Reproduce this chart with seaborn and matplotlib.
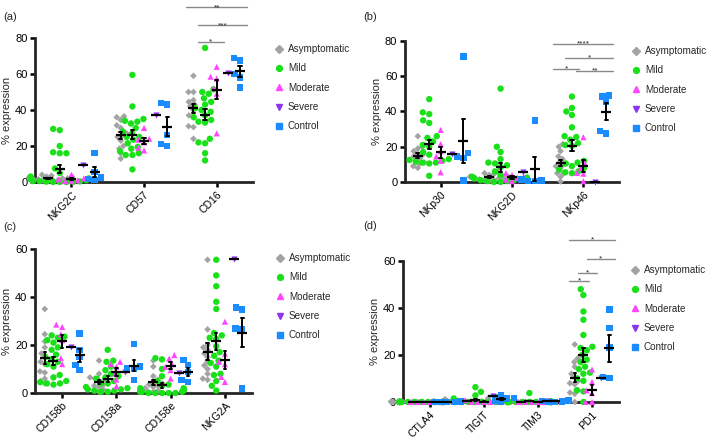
import pandas as pd
import seaborn as sns
import matplotlib.pyplot as plt
from matplotlib.lines import Line2D

# groups and their look
groups = ["Asymptomatic", "Mild", "Moderate", "Severe", "Control"]
colors = ["#a3a3a3", "#19e019", "#ff45ff", "#8c33f0", "#1a8cff"]
markers = ["D", "o", "^", "v", "s"]
sizes = [3.4, 4.6, 4.4, 4.4, 4.6]

# (a)
cats_a = ["NKG2C", "CD57", "CD16"]
a_asym = [[0.5, 1, 1.5, 2, 2.5, 3, 3.5, 4, 1, 2, 0.8, 3, 1.5],
          [36.5, 36, 34.5, 31.5, 30, 27, 26, 25, 23, 20, 18.5, 16, 13],
          [59, 50, 50, 45.5, 44.5, 43, 42, 40, 37, 36, 31, 30.5, 24]]
a_mild = [[29.5, 28.8, 20, 16.5, 16, 16, 7.5, 5, 3, 2, 1.5, 1, 0.5, 0.5, 0.3, 0.2, 0.1, 0, 0, 0],
          [59.5, 42, 35, 34, 33.5, 32.5, 30, 28, 27, 25, 25, 23.5, 21.5, 19.5, 18.5, 17, 16, 15, 15, 7],
          [74.5, 51.5, 50, 49, 46.5, 44.5, 43, 41, 40, 39, 37, 36, 34.5, 33.5, 33, 24, 22, 21.5, 16, 12]]
a_mod = [[4, 2, 1, 0.5, 0.5, 1.5],
         [30, 24, 23.5, 22, 19, 17.5],
         [64, 58.5, 57.5, 52, 49, 27]]
a_sev = [[9.5], [37], [60.5]]
a_ctrl = [[16, 5.5, 2.5, 1.5, 1],
          [44, 43, 26, 21, 20],
          [69, 67.5, 60, 58, 52.5]]

# (b)
cats_b = ["NKp30", "NKG2D", "NKp46"]
b_asym = [[26, 20, 19, 17.5, 16, 15.5, 14.5, 13.5, 12, 11, 10.5, 9, 8],
          [6, 5, 4.5, 4, 3, 3, 2.5, 2, 2, 1.5, 1, 1, 0.5],
          [21.5, 20, 17.5, 14.5, 13, 11, 10, 9, 8, 5, 5, 3, 0.3]]
b_mild = [[47, 39.5, 38.5, 35, 33.5, 26, 25, 23, 21, 20, 17, 15.5, 13, 12.5, 12, 11.5, 11, 11, 10.5, 3.5],
          [53, 20, 17, 13, 11, 10.5, 9.5, 8.5, 6, 4, 3, 2.5, 2, 1.5, 1, 1, 0.5, 0.5, 0, 0],
          [48.5, 42, 40, 38, 31, 26, 25.5, 24, 22, 21, 20.5, 12, 11, 10.5, 9, 8, 7, 6, 5.5, 5]]
b_mod = [[29.5, 21.5, 17.5, 14.5, 12, 5.5],
         [5, 4, 3, 2.3, 1.3, 0.4],
         [25.4, 10.7, 7.9, 5.1, 4.7, 0.4]]
b_sev = [[15.8], [5.6], [0]]
b_ctrl = [[71.3, 16.4, 14.5, 13.6, 0.8],
          [34.8, 1.3, 0.9, 0.4, 0.4],
          [49, 48.5, 45.5, 29, 27.5]]

# (c)
cats_c = ["CD158b", "CD158a", "CD158e", "NKG2A"]
c_asym = [[35, 24.5, 21.5, 19, 16.5, 15, 13, 12, 9, 8.5, 6, 5, 4],
          [13.5, 8, 6.5, 6, 5.5, 5, 4, 3.5, 3, 2.5, 1.5, 1, 0.5],
          [13.5, 11, 7, 5.5, 4.5, 4, 3.5, 3, 2.5, 2, 1, 0.5, 0.5],
          [55.5, 26.5, 20, 19, 18, 16.5, 15, 13, 11.5, 10, 8, 6, 5.5]]
c_mild = [[24, 23.5, 23, 22, 21, 19, 18, 16, 15, 14, 13, 12, 11, 7.5, 6.5, 5, 4.5, 4, 4, 3.5],
          [18, 13.5, 13, 11, 9.5, 8, 7, 6.5, 6, 5, 4, 4, 2.5, 2, 1.5, 1.5, 1, 1, 0.5, 0.5],
          [14.5, 14, 10, 7, 5, 3.5, 3, 2, 2, 1.5, 1, 1, 0.5, 0.5, 0.5, 0, 0, 0, 0, 0],
          [55.5, 49, 44.5, 38, 35, 25, 24, 23, 22.5, 19.5, 17, 15.5, 13.5, 12.5, 11, 8, 7.5, 5, 3, 1]]
c_mod = [[28.5, 27.5, 24.5, 22, 14.5, 12],
         [13, 12, 10.9, 8.1, 5.6, 2.8],
         [15.8, 14.3, 12, 10.9, 9.5, 6],
         [29.7, 16.4, 13, 12, 6.7, 4.6]]
c_sev = [[19.2], [8.8], [8.2], [55.8]]
c_ctrl = [[24.8, 17.8, 15, 11.6, 9.5],
          [20.3, 11, 10.5, 10, 5.3],
          [13.7, 11.7, 8.8, 5.4, 4.6],
          [35.7, 34.8, 26.9, 26.6, 1.8]]

# (d)
cats_d = ["CTLA4", "TIGIT", "TIM3", "PD1"]
d_asym = [[0.3, 0.2, 0.2, 0.1, 0.1, 0.1, 0, 0, 0, 0, 0, 0, 0],
          [1.7, 1.2, 1, 0.8, 0.5, 0.4, 0.3, 0.2, 0.1, 0, 0, 0, 0],
          [0.3, 0.2, 0.1, 0.1, 0, 0, 0, 0, 0, 0, 0, 0, 0],
          [24.5, 18.5, 17, 15, 12, 10.5, 9, 8, 7.5, 5, 4, 3.5, 0]]
d_mild = [[0.2, 0.1, 0.1, 0, 0, 0, 0, 0, 0, 0, 0, 0, 0, 0, 0, 0, 0, 0, 0, 0],
          [6.3, 4.3, 2.8, 2, 1.5, 1, 0.8, 0.5, 0.3, 0.2, 0.1, 0, 0, 0, 0, 0, 0, 0, 0, 0],
          [3.8, 0.3, 0.1, 0, 0, 0, 0, 0, 0, 0, 0, 0, 0, 0, 0, 0, 0, 0, 0, 0],
          [48, 45.5, 38.5, 35, 28.5, 23.5, 23, 22, 20, 18, 17, 15, 14, 12.5, 12, 10, 9, 5, 4.5, 0]]
d_mod = [[0, 0, 0, 0, 0, 0],
         [0.8, 0.3, 0, 0, 0, 0],
         [0, 0, 0, 0, 0, 0],
         [13.8, 8.5, 5, 3.8, 0, 0]]
d_sev = [[0], [2.4], [0.4], [10.1]]
d_ctrl = [[0.2, 0.1, 0, 0, 0],
          [2.8, 1.7, 1.4, 0.7, 0],
          [0.7, 0.4, 0.2, 0, 0],
          [39.3, 31.6, 23.1, 10.6, 10.1]]

# significance brackets: (category index, first group, last group, height, stars)
sig_a = [(2, 0, 4, 97, "**"), (2, 1, 4, 87, "***"), (2, 1, 2, 78, "*")]
sig_b = [(2, 0, 4, 78.5, "****"), (2, 1, 4, 70.5, "*"), (2, 0, 1, 64, "*"), (2, 2, 4, 63, "**")]
sig_c = []
sig_d = [(3, 0, 4, 69, "*"), (3, 2, 4, 61, "*"), (3, 1, 2, 55, "*"), (3, 0, 1, 51.5, "*")]

sns.set_style("ticks")
plt.rcParams["font.family"] = ["Liberation Sans", "DejaVu Sans"]

palette = dict(zip(groups, colors))
STEP = 0.16  # dodge spacing used by seaborn for 5 hue levels


def draw_panel(ax, cats, series, ymax, sigs, tag, leg_pos):
    rows = []
    for name, values in zip(groups, series):
        for cat, vals in zip(cats, values):
            for v in vals:
                rows.append((cat, name, v))
    df = pd.DataFrame(rows, columns=["marker", "group", "value"])

    # scatter of individual donors, one call per marker shape
    for name, mk, sz in zip(groups, markers, sizes):
        sns.swarmplot(data=df[df["group"] == name], x="marker", y="value",
                      hue="group", order=cats, hue_order=groups, palette=palette,
                      dodge=True, marker=mk, size=sz, linewidth=0, clip_on=False,
                      zorder=3, legend=False, warn_thresh=1, ax=ax)

    # mean +/- SEM
    sns.pointplot(data=df, x="marker", y="value", hue="group", order=cats,
                  hue_order=groups, palette={g: "black" for g in groups},
                  dodge=STEP * 4, errorbar="se", markers="_", linestyles="none",
                  markersize=6.5, markeredgewidth=1.6, capsize=0.045,
                  err_kws={"linewidth": 1.4, "zorder": 4}, zorder=4,
                  legend=False, ax=ax)

    ax.set_ylim(0, ymax)
    ax.set_xlim(-0.5, len(cats) - 0.5)
    ax.set_yticks(range(0, ymax + 1, 20))
    ax.set_xticks(range(len(cats)))
    ax.set_xticklabels(cats, rotation=45, ha="right", rotation_mode="anchor", fontsize=7.5)
    ax.set_xlabel("")
    ax.set_ylabel("% expression", fontsize=8, labelpad=2)
    sns.despine(ax=ax)
    for side in ["left", "bottom"]:
        ax.spines[side].set_linewidth(2)
        ax.spines[side].set_zorder(2.5)
    ax.tick_params(width=1.8, length=3.5, labelsize=8, colors="black", pad=2)
    ax.tick_params(axis="x", labelsize=7.5)

    for ci, g0, g1, y, txt in sigs:
        x0 = ci + (g0 - 2) * STEP - 0.1
        x1 = ci + (g1 - 2) * STEP + 0.1
        ax.plot([x0, x1], [y, y], color="#8a8a8a", lw=1, clip_on=False)
        ax.annotate(txt, ((x0 + x1) / 2, y), xytext=(0, -2.5), textcoords="offset points",
                    ha="center", va="bottom", fontsize=6, annotation_clip=False)

    handles = [Line2D([], [], marker=m, color=c, linestyle="none", markersize=4.2)
               for m, c in zip(markers, colors)]
    fig.legend(handles, groups, loc="upper left",
               bbox_to_anchor=(leg_pos[0] / 709, 1 - leg_pos[1] / 440),
               frameon=False, fontsize=7.1, handlelength=0.8, handletextpad=0.5,
               labelspacing=0.95, borderaxespad=0, borderpad=0)
    fig.text(tag[1] / 709, 1 - tag[2] / 440, tag[0], fontsize=8, va="center", ha="left")


fig = plt.figure(figsize=(7.09, 4.40), dpi=100)
ax_a = fig.add_axes([0.0494, 0.5864, 0.3075, 0.3272])
ax_b = fig.add_axes([0.5712, 0.5864, 0.3019, 0.3204])
ax_c = fig.add_axes([0.0494, 0.1068, 0.3061, 0.3273])
ax_d = fig.add_axes([0.5684, 0.0864, 0.3047, 0.3205])

draw_panel(ax_a, cats_a, [a_asym, a_mild, a_mod, a_sev, a_ctrl], 80, sig_a, ("(a)", 3, 17), (275, 44))
draw_panel(ax_b, cats_b, [b_asym, b_mild, b_mod, b_sev, b_ctrl], 80, sig_b, ("(b)", 363, 17), (632, 46))
draw_panel(ax_c, cats_c, [c_asym, c_mild, c_mod, c_sev, c_ctrl], 60, sig_c, ("(c)", 3, 227), (276, 253))
draw_panel(ax_d, cats_d, [d_asym, d_mild, d_mod, d_sev, d_ctrl], 60, sig_d, ("(d)", 363, 226), (631, 265))

fig.savefig("out.png", dpi=100)
